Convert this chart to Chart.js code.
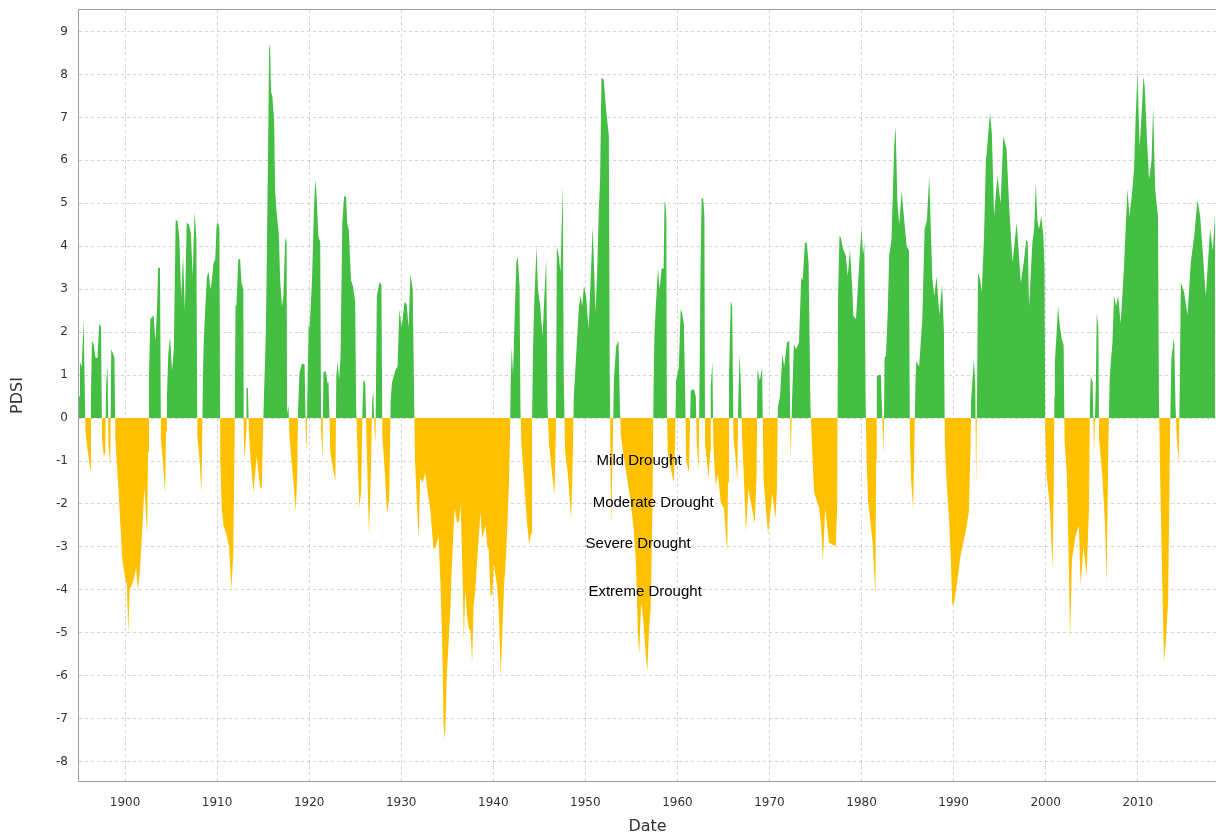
<!DOCTYPE html>
<html lang="en">
<head>
<meta charset="UTF-8">
<title>PDSI</title>
<script src="https://cdn.jsdelivr.net/npm/chart.js"></script>
<style>
  html, body { margin: 0; padding: 0; background: #fff; }
  #wrap { width: 1216px; height: 836px; }
</style>
</head>
<body>
<div id="wrap"><canvas id="pdsiChart"></canvas></div>
<script>
// decimal years and PDSI, one pair of arrays per era
const dates1 = [
  1895.0, 1895.1, 1895.3, 1895.5, 1895.6, 1895.7, 1895.9, 1896.1, 1896.2, 1896.3,
  1896.4, 1896.6, 1896.8, 1897.0, 1897.2, 1897.4, 1897.5, 1897.7, 1897.85, 1897.95,
  1898.1, 1898.2, 1898.4, 1898.5, 1898.7, 1898.85, 1898.95, 1899.1, 1899.3, 1899.5,
  1899.7, 1900.0, 1900.2, 1900.35, 1900.5, 1900.9, 1901.2, 1901.4, 1901.6, 1901.9,
  1902.1, 1902.4, 1902.5, 1902.6, 1902.75, 1903.1, 1903.3, 1903.5, 1903.6, 1903.8,
  1903.9, 1904.1, 1904.35, 1904.45, 1904.55, 1904.7, 1904.9, 1905.1, 1905.3, 1905.5,
  1905.7, 1905.9, 1906.1, 1906.3, 1906.5, 1906.7, 1906.95, 1907.15, 1907.35, 1907.55,
  1907.75, 1907.85, 1908.1, 1908.3, 1908.45, 1908.55, 1908.7, 1908.9, 1909.1, 1909.25,
  1909.4, 1909.6, 1909.8, 1909.95, 1910.1, 1910.25, 1910.35, 1910.5, 1910.7, 1911.0,
  1911.3, 1911.55, 1911.75, 1911.9, 1912.0, 1912.1, 1912.3, 1912.5, 1912.65, 1912.85,
  1912.9, 1913.0, 1913.15, 1913.2, 1913.35, 1913.45, 1913.65, 1913.95, 1914.3, 1914.65,
  1914.85, 1915.0, 1915.1, 1915.3, 1915.45, 1915.55, 1915.65, 1915.75, 1915.85, 1916.0
];
const pdsi1 = [
  0.5, 1.3, 1.2, 2.3, 1.0, -0.3, -0.7, -1.0, -1.2, 0.5,
  1.8, 1.7, 1.4, 1.4, 2.2, 2.1, -0.5, -0.9, -0.8, 0.8,
  1.2, -0.6, -1.1, 1.6, 1.5, 1.4, -0.5, -1.0, -1.7, -2.5,
  -3.3, -3.7, -3.9, -5.0, -4.0, -3.8, -3.5, -4.0, -3.6, -2.5,
  -1.6, -2.7, -0.8, 1.0, 2.3, 2.4, 1.8, 2.7, 3.5, 3.5,
  -0.5, -1.0, -1.75, -0.3, 0.5, 1.5, 1.9, 1.1, 1.6, 4.6,
  4.6, 4.2, 2.8, 3.8, 2.5, 4.55, 4.5, 4.3, 3.3, 4.8,
  4.2, -0.4, -1.0, -1.75, 0.8, 1.8, 2.5, 3.3, 3.4, 3.0,
  3.15, 3.6, 3.7, 4.5, 4.55, 4.4, -1.0, -2.1, -2.5, -2.7,
  -3.0, -4.0, -3.2, -0.6, 2.65, 2.6, 3.7, 3.7, 3.15, 3.0,
  -0.5, -1.0, -0.3, 0.7, 0.7, -0.3, -1.0, -1.73, -0.9, -1.6,
  -1.65, -0.2, 0.6, 2.0, 4.7, 6.5, 8.6, 8.7, 7.6, 7.5
];

const dates2 = [
  1916.2, 1916.3, 1916.5, 1916.7, 1916.85, 1917.05, 1917.2, 1917.4, 1917.55, 1917.6,
  1917.75, 1917.85, 1918.0, 1918.3, 1918.55, 1918.7, 1918.8, 1918.95, 1919.2, 1919.5,
  1919.65, 1919.72, 1919.8, 1919.95, 1920.05, 1920.3, 1920.5, 1920.65, 1920.8, 1921.0,
  1921.2, 1921.3, 1921.45, 1921.55, 1921.8, 1922.0, 1922.1, 1922.3, 1922.6, 1922.85,
  1922.95, 1923.1, 1923.25, 1923.4, 1923.6, 1923.8, 1924.0, 1924.15, 1924.3, 1924.55,
  1924.75, 1925.0, 1925.1, 1925.25, 1925.45, 1925.65, 1925.8, 1925.9, 1926.1, 1926.25,
  1926.5, 1926.7, 1926.85, 1926.95, 1927.1, 1927.2, 1927.35, 1927.65, 1927.85, 1927.95,
  1928.2, 1928.45, 1928.7, 1928.85, 1929.0, 1929.35, 1929.6, 1929.8, 1930.05, 1930.35,
  1930.6, 1930.8, 1931.0, 1931.25, 1931.4, 1931.5, 1931.7, 1931.9, 1932.05, 1932.35,
  1932.6, 1932.9, 1933.15, 1933.5, 1933.75, 1934.05, 1934.25, 1934.45, 1934.6, 1934.75,
  1934.95, 1935.15, 1935.35, 1935.5, 1935.8, 1936.05, 1936.3, 1936.45, 1936.7, 1936.8
];
const pdsi2 = [
  6.9, 5.3, 4.7, 4.3, 3.2, 2.6, 2.85, 4.2, 4.1, 0.1,
  0.3, -0.4, -0.8, -1.5, -2.2, -1.3, 0.2, 1.06, 1.26, 1.26,
  -0.5, -0.8, 0.5, 2.2, 2.1, 3.15, 4.7, 5.56, 5.2, 4.24,
  4.1, -0.3, -0.95, 1.06, 1.1, 0.8, 0.85, -0.8, -1.2, -1.46,
  1.0, 1.3, 0.9, 1.37, 4.55, 5.17, 5.15, 4.5, 4.4, 3.2,
  3.08, 2.7, 0.3, -0.8, -2.1, -1.7, 0.3, 0.9, 0.8, -0.7,
  -2.74, -1.3, 0.4, 0.64, -0.3, -0.57, 2.85, 3.17, 3.1, -0.4,
  -1.2, -2.23, -1.85, 0.4, 0.83, 1.1, 1.2, 2.53, 2.1, 2.7,
  2.65, 2.1, 3.35, 3.0, 0.5, -1.0, -2.0, -2.81, -1.4, -1.5,
  -1.27, -1.8, -2.1, -3.05, -3.0, -2.75, -3.8, -5.2, -7.15, -7.5,
  -6.0, -5.2, -4.4, -3.43, -2.1, -2.43, -2.4, -2.0, -4.0, -5.2
];

const dates3 = [
  1936.95, 1937.15, 1937.35, 1937.55, 1937.7, 1937.85, 1938.05, 1938.25, 1938.45, 1938.6,
  1938.8, 1939.15, 1939.35, 1939.5, 1939.7, 1939.9, 1940.05, 1940.4, 1940.6, 1940.8,
  1940.95, 1941.15, 1941.35, 1941.5, 1941.7, 1941.8, 1941.9, 1942.0, 1942.15, 1942.3,
  1942.5, 1942.65, 1942.85, 1942.95, 1943.05, 1943.3, 1943.65, 1943.9, 1944.1, 1944.2,
  1944.3, 1944.45, 1944.7, 1944.85, 1945.1, 1945.35, 1945.55, 1945.75, 1945.9, 1946.05,
  1946.4, 1946.65, 1946.8, 1946.9, 1947.1, 1947.3, 1947.55, 1947.65, 1947.8, 1948.1,
  1948.45, 1948.6, 1948.75, 1949.0, 1949.3, 1949.5, 1949.65, 1949.85, 1950.1, 1950.35,
  1950.65, 1950.8, 1951.1, 1951.3, 1951.45, 1951.6, 1951.75, 1952.0, 1952.25, 1952.55,
  1952.65, 1952.75, 1952.8, 1952.95, 1953.1, 1953.35, 1953.6, 1953.75, 1953.85, 1954.2,
  1954.6, 1954.9, 1955.25, 1955.5, 1955.7, 1955.85, 1956.05, 1956.3, 1956.55, 1956.73,
  1956.9, 1957.1, 1957.3
];
const pdsi3 = [
  -4.0, -4.6, -4.9, -5.0, -5.7, -4.4, -4.0, -3.3, -2.7, -2.2,
  -2.8, -2.5, -3.0, -3.05, -4.13, -4.1, -3.4, -3.9, -4.5, -6.0,
  -5.2, -4.0, -3.3, -2.7, -1.5, -0.6, 0.9, 1.64, 1.0, 2.2,
  3.6, 3.78, 3.08, 0.2, -0.6, -1.35, -2.4, -2.93, -2.7, -0.3,
  1.45, 2.7, 4.0, 3.0, 2.6, 1.9, 2.85, 3.7, 0.2, -0.6,
  -1.34, -1.77, -0.3, 4.0, 3.78, 3.4, 5.4, 1.0, -0.8, -1.3,
  -2.35, -1.3, 0.52, 1.45, 2.6, 2.85, 2.6, 3.08, 2.8, 2.07,
  3.62, 4.47, 2.46, 3.5, 4.78, 5.56, 7.92, 7.88, 7.19, 6.57,
  1.0, -1.5, -2.5, -1.0, 0.9, 1.68, 1.8, 0.3, -0.4, -0.95,
  -1.5, -1.9, -2.6, -3.4, -5.0, -5.5, -4.3, -4.7, -5.5, -5.9,
  -5.0, -4.4, -2.0
];

const dates4 = [
  1957.4, 1957.5, 1957.65, 1957.9, 1958.05, 1958.3, 1958.5, 1958.6, 1958.7, 1958.8,
  1958.85, 1958.95, 1959.25, 1959.6, 1959.75, 1959.85, 1960.15, 1960.35, 1960.5, 1960.7,
  1960.85, 1960.95, 1961.25, 1961.35, 1961.45, 1961.8, 1962.0, 1962.1, 1962.3, 1962.4,
  1962.5, 1962.63, 1962.8, 1962.93, 1963.0, 1963.4, 1963.55, 1963.62, 1963.8, 1963.9,
  1964.15, 1964.4, 1964.7, 1965.05, 1965.4, 1965.5, 1965.6, 1965.8, 1965.95, 1966.05,
  1966.1, 1966.3, 1966.5, 1966.6, 1966.75, 1966.9, 1967.0, 1967.2, 1967.45, 1967.7,
  1968.1, 1968.4, 1968.6, 1968.7, 1968.95, 1969.2, 1969.35, 1969.6, 1969.85, 1970.3,
  1970.65, 1970.8, 1970.9, 1971.15, 1971.4, 1971.6, 1971.9, 1972.15, 1972.3, 1972.45,
  1972.65, 1972.9, 1973.2, 1973.45, 1973.6, 1973.85, 1974.05, 1974.25, 1974.45, 1974.6,
  1974.85, 1975.4, 1975.6, 1975.8, 1976.05, 1976.45, 1977.0, 1977.2, 1977.35
];
const pdsi4 = [
  0.6, 1.9, 2.6, 3.5, 3.0, 3.5, 3.47, 5.05, 5.0, 4.6,
  0.2, -0.8, -1.15, -1.5, -0.6, 0.87, 1.18, 2.53, 2.45, 2.2,
  0.5, -1.0, -1.26, -0.3, 0.64, 0.67, 0.5, -0.6, -1.22, 0.8,
  3.3, 5.13, 5.1, 4.7, -0.6, -1.4, -0.8, 0.75, 1.3, -0.6,
  -1.57, -1.3, -1.96, -2.1, -3.12, -1.5, 1.0, 2.73, 2.6, 0.4,
  -0.5, -0.9, -1.46, 0.3, 1.49, 0.7, -0.3, -1.3, -2.66, -1.65,
  -2.1, -2.46, -1.3, 1.14, 0.87, 1.18, -1.4, -2.1, -2.7, -1.75,
  -2.35, -1.7, 0.25, 0.52, 1.49, 1.2, 1.76, 1.8, -1.0, 0.4,
  1.72, 1.6, 1.76, 3.27, 3.2, 4.08, 4.08, 3.6, 0.3, -0.6,
  -1.74, -2.1, -2.5, -3.32, -2.1, -2.9, -2.97, -2.97, -2.1
];

const dates5 = [
  1977.45, 1977.6, 1977.75, 1978.0, 1978.3, 1978.5, 1978.75, 1979.0, 1979.1, 1979.4,
  1979.75, 1980.0, 1980.15, 1980.3, 1980.45, 1980.55, 1980.7, 1981.2, 1981.5, 1981.58,
  1981.65, 1981.9, 1982.1, 1982.3, 1982.4, 1982.5, 1982.65, 1982.85, 1983.0, 1983.25,
  1983.55, 1983.7, 1983.9, 1984.1, 1984.35, 1984.6, 1984.9, 1985.15, 1985.25, 1985.4,
  1985.6, 1985.75, 1985.85, 1985.95, 1986.25, 1986.6, 1986.85, 1987.1, 1987.35, 1987.55,
  1987.7, 1987.9, 1988.15, 1988.45, 1988.75, 1988.95, 1989.05, 1989.2, 1989.5, 1989.7,
  1989.85, 1990.05, 1990.4, 1990.75, 1991.3, 1991.65, 1991.85, 1991.9, 1992.2, 1992.35,
  1992.45, 1992.55, 1992.65, 1992.9, 1993.05, 1993.3, 1993.5, 1993.95, 1994.15, 1994.4,
  1994.75, 1995.1, 1995.4, 1995.75, 1996.05, 1996.4, 1996.85, 1997.3, 1997.6, 1997.9
];
const pdsi5 = [
  2.85, 4.24, 4.2, 3.93, 3.78, 3.3, 3.93, 3.0, 2.38, 2.3,
  3.62, 4.43, 3.8, 4.08, 0.3, -1.0, -1.9, -2.9, -4.13, -1.0,
  0.98, 1.0, 1.0, -0.3, -0.84, 1.41, 1.45, 2.5, 3.78, 4.16,
  6.33, 6.8, 5.0, 4.5, 5.29, 4.7, 4.0, 3.9, -0.5, -1.5,
  -2.12, -0.5, 0.8, 1.33, 1.2, 2.3, 4.4, 4.6, 5.64, 4.2,
  3.23, 2.85, 3.3, 2.4, 3.12, 2.0, -0.6, -1.35, -2.35, -3.3,
  -4.36, -4.3, -3.8, -3.2, -2.66, -2.19, -0.6, 0.4, 1.37, 0.8,
  -1.6, 0.8, 3.39, 3.2, 2.92, 4.2, 5.95, 7.1, 6.64, 4.7,
  5.64, 5.0, 6.57, 6.26, 4.86, 3.62, 4.55, 3.15, 3.6, 4.16
];

const dates6 = [
  1998.05, 1998.2, 1998.55, 1998.75, 1998.92, 1999.1, 1999.28, 1999.53, 1999.75, 1999.88,
  1999.95, 2000.1, 2000.45, 2000.75, 2000.88, 2000.95, 2001.0, 2001.35, 2001.5, 2001.75,
  2001.95, 2002.05, 2002.3, 2002.5, 2002.65, 2002.85, 2003.25, 2003.6, 2003.8, 2004.1,
  2004.45, 2004.7, 2004.8, 2004.9, 2005.1, 2005.25, 2005.45, 2005.55, 2005.72, 2005.8,
  2006.15, 2006.45, 2006.62, 2006.82, 2006.95, 2007.07, 2007.25, 2007.43, 2007.65, 2007.87,
  2008.15, 2008.5, 2008.88, 2009.1, 2009.35, 2009.6, 2009.78, 2009.97, 2010.2, 2010.4,
  2010.62, 2010.76, 2011.0, 2011.23, 2011.5, 2011.67, 2011.89, 2012.2, 2012.3, 2012.42,
  2012.65, 2012.85, 2013.05, 2013.3, 2013.5, 2013.65, 2013.95, 2014.1, 2014.25, 2014.45,
  2014.55, 2014.68, 2015.04, 2015.4, 2015.76, 2016.13, 2016.49, 2016.78, 2017.14, 2017.39,
  2017.86, 2018.15, 2018.41
];
const pdsi6 = [
  4.1, 2.6, 4.08, 4.4, 5.48, 4.6, 4.4, 4.7, 4.24, 3.5,
  -0.3, -1.34, -2.04, -3.5, -1.5, 0.5, 1.3, 2.6, 2.2, 1.84,
  1.7, -0.5, -1.34, -3.28, -5.14, -3.3, -2.74, -2.5, -3.9, -3.0,
  -3.67, -2.1, 0.3, 0.95, 0.85, -0.8, 0.8, 2.46, 2.1, -0.5,
  -1.34, -2.5, -3.82, -0.5, 0.9, 1.3, 1.75, 2.85, 2.6, 2.85,
  2.2, 3.5, 5.33, 4.7, 5.17, 5.8, 7.03, 8.04, 6.33, 7.0,
  7.96, 7.7, 6.5, 5.56, 6.0, 7.26, 5.33, 4.7, 0.5, -1.19,
  -3.67, -5.68, -5.2, -4.28, -0.5, 1.37, 1.9, 0.3, -0.5, -1.03,
  0.5, 3.16, 2.93, 2.4, 3.62, 4.24, 5.09, 4.7, 3.62, 2.85,
  4.4, 3.9, 4.8
];

// axis ticks
const yearTicks = [1900, 1910, 1920, 1930, 1940, 1950, 1960, 1970, 1980, 1990, 2000, 2010];
const pdsiTicks = [-8, -7, -6, -5, -4, -3, -2, -1, 0, 1, 2, 3, 4, 5, 6, 7, 8, 9];

// category notes written over the plot (date, PDSI)
const droughtLabels = ['Mild Drought', 'Moderate Drought', 'Severe Drought', 'Extreme Drought'];
const droughtLabelDates = [1955.84, 1957.36, 1955.73, 1956.49];
const droughtLabelValues = [-1.0, -1.97, -2.93, -4.05];

const dates = [].concat(dates1, dates2, dates3, dates4, dates5, dates6);
const pdsi = [].concat(pdsi1, pdsi2, pdsi3, pdsi4, pdsi5, pdsi6);
if (dates.length !== pdsi.length) console.error('length mismatch', dates.length, pdsi.length);

const points = dates.map((d, i) => ({ x: d, y: pdsi[i] }));

// labels + frame, drawn last so they sit over the grid
const overlay = {
    id: 'overlay',
    afterDraw(chart) {
        const { ctx, chartArea: a, scales: { x, y } } = chart;
        ctx.save();
        ctx.strokeStyle = '#a0a0a0';
        ctx.lineWidth = 1;
        ctx.strokeRect(a.left - 0.5, a.top - 0.5, a.right - a.left + 1, a.bottom - a.top + 1);
        ctx.font = '15px "Liberation Sans", Arial, sans-serif';
        ctx.fillStyle = '#000';
        ctx.textAlign = 'center';
        ctx.textBaseline = 'middle';
        droughtLabels.forEach((t, i) => {
            ctx.fillText(t, x.getPixelForValue(droughtLabelDates[i]), y.getPixelForValue(droughtLabelValues[i]));
        });
        ctx.restore();
    }
};

const tickFont = { family: '"DejaVu Sans", sans-serif', size: 12 };
const titleFont = { family: '"DejaVu Sans", sans-serif', size: 16 };
const gridColor = 'rgba(170,170,170,0.5)';

new Chart(document.getElementById('pdsiChart'), {
    type: 'line',
    data: {
        datasets: [{
            data: points,
            borderWidth: 0,
            borderColor: 'rgba(0,0,0,0)',
            pointRadius: 0,
            tension: 0,
            fill: { target: 'origin', above: '#44bf44', below: '#ffc000' }
        }]
    },
    options: {
        responsive: true,
        maintainAspectRatio: false,
        animation: false,
        layout: { padding: { top: 10, right: 0, bottom: 0, left: 0 } },
        plugins: { legend: { display: false }, tooltip: { enabled: false } },
        scales: {
            x: {
                type: 'linear',
                min: 1895,
                max: 2018.5,
                z: 1,
                afterBuildTicks: s => { s.ticks = yearTicks.map(v => ({ value: v })); },
                afterFit: s => { s.height = 55; s.paddingLeft = 0; s.paddingRight = 0; },
                grid: { color: gridColor, drawTicks: false },
                border: { display: false, dash: [3, 3] },
                ticks: { font: tickFont, color: '#333', padding: 15, maxRotation: 0, callback: v => String(v) },
                title: { display: true, text: 'Date', font: titleFont, color: '#333', padding: { top: 0, bottom: 0 } }
            },
            y: {
                min: -8.45,
                max: 9.5,
                z: 1,
                afterBuildTicks: s => { s.ticks = pdsiTicks.map(v => ({ value: v })); },
                afterFit: s => { s.width = 79; s.paddingTop = 0; s.paddingBottom = 0; },
                grid: { color: gridColor, drawTicks: false },
                border: { display: false, dash: [3, 3] },
                ticks: { font: tickFont, color: '#333', padding: 11, callback: v => String(v) },
                title: { display: true, text: 'PDSI', font: titleFont, color: '#333', padding: { top: 8, bottom: 0 } }
            }
        }
    },
    plugins: [overlay]
});
</script>
</body>
</html>
